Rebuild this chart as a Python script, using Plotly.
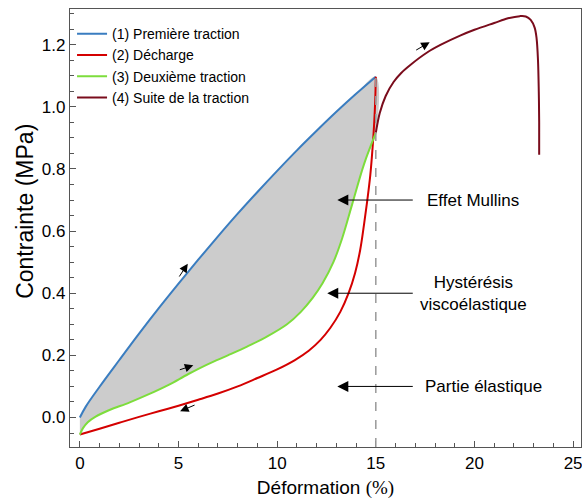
import plotly.graph_objects as go

# (1) Première traction
x1 = [0, 0.3, 1, 2, 3, 4, 5, 6, 7, 8, 9, 10, 11, 12, 13, 14, 15]
y1 = [0.0, 0.035, 0.099, 0.185, 0.27, 0.352, 0.431, 0.508, 0.583, 0.656, 0.726, 0.794, 0.86, 0.923, 0.984, 1.042, 1.097]

# (2) Décharge
x2 = [15, 14.97, 14.92, 14.85, 14.72, 14.57, 14.4, 14.21, 13.95, 13.62, 13.2, 12.69, 12.2, 11.6, 10.9, 10.0,
      9.0, 8.0, 7.0, 6.0, 5.0, 4.0, 3.0, 2.0, 1.0, 0]
y2 = [1.097, 1.02, 0.95, 0.88, 0.78, 0.70, 0.62, 0.54, 0.465, 0.40, 0.34, 0.288, 0.25, 0.215, 0.185, 0.155,
      0.127, 0.100, 0.077, 0.057, 0.038, 0.02, 0.002, -0.017, -0.036, -0.055]

# (3) Deuxième traction
x3 = [0, 0.15, 0.4, 0.8, 1.5, 2.5, 3.5, 4.5, 5.5, 6.5, 7.5, 8.5, 9.5, 10.5, 11.2, 11.8, 12.3, 12.85,
      13.3, 13.8, 14.4, 15]
y3 = [-0.055, -0.035, -0.015, 0.003, 0.024, 0.048, 0.075, 0.105, 0.14, 0.172, 0.2, 0.229, 0.261, 0.3,
      0.34, 0.385, 0.432, 0.5, 0.578, 0.686, 0.815, 0.916]

# (4) Suite de la traction
x4 = [15, 15.2, 15.5, 15.9, 16.3, 16.75, 17.6, 18.3, 19.3, 20, 21, 21.7, 22.3, 22.6, 22.85, 23.05,
      23.15, 23.22, 23.26, 23.28, 23.28]
y4 = [0.916, 0.98, 1.035, 1.08, 1.11, 1.135, 1.175, 1.2, 1.23, 1.248, 1.27, 1.285, 1.292, 1.291, 1.28,
      1.255, 1.22, 1.15, 1.05, 0.95, 0.846]

names = ["(1) Première traction", "(2) Décharge", "(3) Deuxième traction", "(4) Suite de la traction"]
colors = ["#3a7dc0", "#d40000", "#7ddd3c", "#7a0c1c"]

x_ticks = [0, 5, 10, 15, 20, 25]
y_ticks = [0.0, 0.2, 0.4, 0.6, 0.8, 1.0, 1.2]
x_range = [-0.5, 25.4]
y_range = [-0.095, 1.315]

# labels with arrows: (text, head x, head y, tail x, text x)
labels = [
    ("Effet Mullins", 13.05, 0.70, 16.95, 19.95),
    ("Hystérésis<br>viscoélastique", 12.54, 0.40, 16.95, 19.95),
    ("Partie élastique", 13.05, 0.10, 16.95, 20.45),
]
# small direction arrows: (tail x, tail y, head x, head y)
dir_arrows = [
    (4.99, 0.449, 5.47, 0.495),
    (4.99, 0.152, 5.75, 0.168),
    (5.89, 0.042, 5.08, 0.020),
    (16.97, 1.180, 17.73, 1.208),
]

fig = go.Figure()

# grey hysteresis area between first and second traction
fig.add_trace(go.Scatter(
    x=x1 + x3[::-1], y=y1 + y3[::-1], fill="toself", fillcolor="#cccccc",
    line=dict(width=0, shape="spline", smoothing=1), mode="lines", showlegend=False, hoverinfo="skip"))

for xs, ys, n, c in zip([x1, x2, x3, x4], [y1, y2, y3, y4], names, colors):
    fig.add_trace(go.Scatter(x=xs, y=ys, mode="lines", name=n,
                             line=dict(color=c, width=2, shape="spline", smoothing=1)))

fig.add_shape(type="line", x0=x1[-1], x1=x1[-1], y0=y_range[0], y1=y1[-1],
              line=dict(color="#999999", width=1.5, dash="dash"), layer="above")

for txt, hx, hy, tx, lx in labels:
    fig.add_annotation(x=hx, y=hy, ax=tx, ay=hy, axref="x", ayref="y", xref="x", yref="y",
                       text="", showarrow=True, arrowhead=2, arrowsize=2.2, arrowwidth=1,
                       arrowcolor="black")
    fig.add_annotation(x=lx, y=hy, text=txt, showarrow=False, xref="x", yref="y",
                       font=dict(size=17, color="black"), align="center")

for tx, ty, hx, hy in dir_arrows:
    fig.add_annotation(x=hx, y=hy, ax=tx, ay=ty, axref="x", ayref="y", xref="x", yref="y",
                       text="", showarrow=True, arrowhead=2, arrowsize=1.7, arrowwidth=1,
                       arrowcolor="black")

# y axis title (placed slightly above the plot centre, as in the original)
fig.add_annotation(text="Contrainte (MPa)", textangle=-90, xref="paper", yref="paper",
                   x=-0.088, y=0.537, xanchor="center", yanchor="middle", showarrow=False,
                   font=dict(size=23, color="black"))

axis_common = dict(showline=True, linecolor="#555555", linewidth=1.2, mirror=True,
                   ticks="inside", ticklen=6, tickcolor="#555555", showgrid=False,
                   zeroline=False, tickfont=dict(size=17, color="black"), automargin=False,
                   ticklabeloverflow="allow")

fig.update_xaxes(range=x_range, tickvals=x_ticks,
                 minor=dict(dtick=1, ticks="inside", ticklen=4, tickcolor="#555555", showgrid=False),
                 title=dict(text='Déformation <span style="font-family:Liberation Serif">(%)</span>',
                            font=dict(size=19, color="black"), standoff=11),
                 **axis_common)
fig.update_yaxes(range=y_range, tickvals=y_ticks, tickformat=".1f",
                 minor=dict(dtick=0.05, ticks="inside", ticklen=4, tickcolor="#555555", showgrid=False),
                 **axis_common)

fig.update_layout(
    width=582, height=499,
    margin=dict(l=70, r=1, t=9, b=52, autoexpand=False),
    paper_bgcolor="white", plot_bgcolor="white",
    font=dict(family="Liberation Sans, Arial, sans-serif", color="black"),
    legend=dict(x=0.004, y=0.979, xanchor="left", yanchor="top", bgcolor="rgba(0,0,0,0)",
                font=dict(size=14), tracegroupgap=0, itemwidth=30),
)

# remove the default page margin so the 582x499 figure fills the window exactly
fig.write_html("out.html", config={"displayModeBar": False},
               post_script="document.body.style.margin='0px';")
